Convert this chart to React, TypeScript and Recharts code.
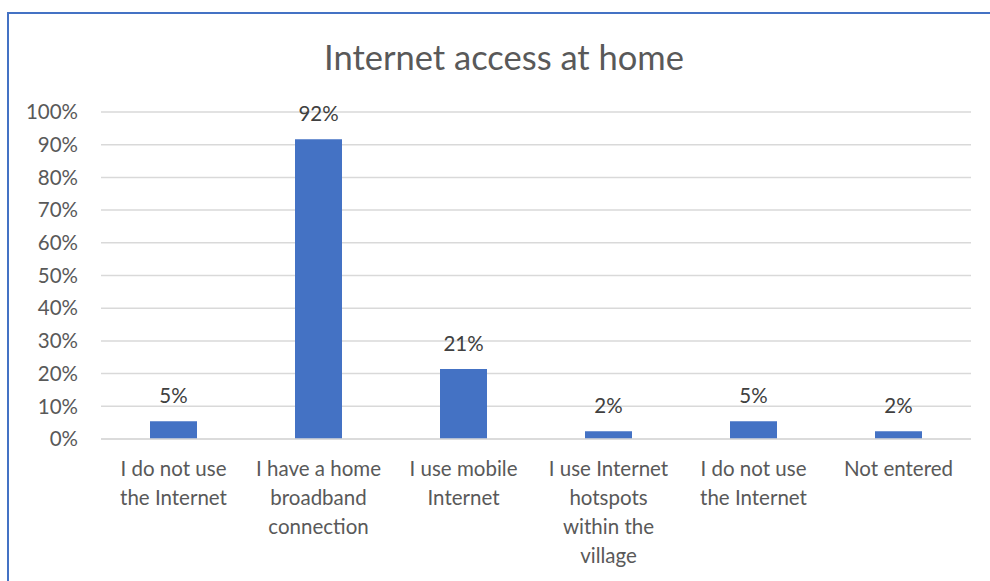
import React from 'react';
import { BarChart, Bar, XAxis, YAxis, CartesianGrid, LabelList } from 'recharts';

const categories = [
  'I do not use\nthe Internet',
  'I have a home\nbroadband\nconnection',
  'I use mobile\nInternet',
  'I use Internet\nhotspots\nwithin the\nvillage',
  'I do not use\nthe Internet',
  'Not entered',
];
const values = [5.4, 91.7, 21.4, 2.4, 5.4, 2.4];
const yTicks = [0, 10, 20, 30, 40, 50, 60, 70, 80, 90, 100];

const data = categories.map((c, i) => ({ name: c, value: values[i] }));

const FONT = 'Lato, "Open Sans", sans-serif';

const XTick = (props: any) => {
  const { x, y, payload } = props;
  const lines = String(payload.value).split('\n');
  return (
    <g transform={`translate(${x},${y})`}>
      {lines.map((l: string, i: number) => (
        <text key={i} x={0} y={i * 29} dy={29} textAnchor="middle" fill="#595959" fontSize={20.5} fontFamily={FONT}>
          {l}
        </text>
      ))}
    </g>
  );
};

export default function App() {
  return (
    <div style={{ position: 'absolute', left: 0, top: 0, width: 990, height: 581, background: '#fff', overflow: 'hidden' }}>
      <div style={{ position: 'absolute', left: 7, top: 12, width: 1000, height: 600, borderLeft: '2px solid #4472C4', borderTop: '2px solid #4472C4' }} />
      <div style={{ position: 'absolute', left: 0, top: 36, width: 1008, textAlign: 'center', fontFamily: FONT, fontSize: 34.5, color: '#595959' }}>
        Internet access at home
      </div>
      <div style={{ position: 'absolute', left: 0, top: 0 }}>
        <BarChart width={990} height={581} data={data} margin={{ top: 112, right: 19, bottom: 0, left: 0 }} barCategoryGap={49}>
          <CartesianGrid vertical={false} stroke="#d9d9d9" strokeWidth={1.5} />
          <XAxis dataKey="name" height={142} tickLine={false} axisLine={{ stroke: '#d9d9d9', strokeWidth: 1.5 }} tick={<XTick />} interval={0} />
          <YAxis
            width={101}
            domain={[0, 100]}
            ticks={yTicks}
            interval={0}
            tickFormatter={(v: number) => `${v}%`}
            axisLine={false}
            tickLine={false}
            tickSize={0}
            tickMargin={23}
            tick={{ fill: '#595959', fontSize: 20.5, fontFamily: FONT }}
          />
          <Bar dataKey="value" fill="#4472C4" isAnimationActive={false}>
            <LabelList dataKey="value" position="top" offset={18} formatter={(v: any) => `${Math.round(Number(v))}%`} fill="#404040" fontSize={20.5} fontFamily={FONT} />
          </Bar>
        </BarChart>
      </div>
    </div>
  );
}
